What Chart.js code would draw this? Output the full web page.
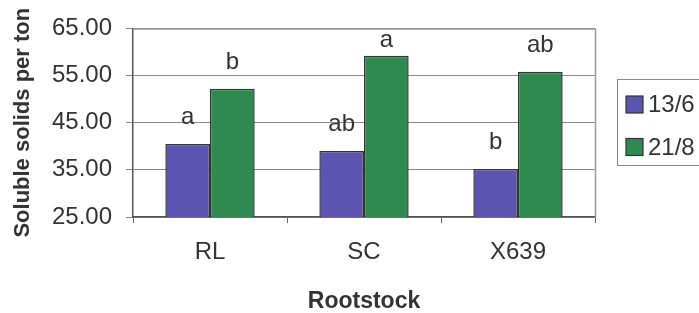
<!DOCTYPE html>
<html>
<head>
<meta charset="utf-8">
<script src="https://cdn.jsdelivr.net/npm/chart.js@4/dist/chart.umd.min.js"></script>
<style>
  html, body { margin: 0; padding: 0; background: #fff; overflow: hidden; }
  canvas { display: block; }
</style>
</head>
<body>
<canvas id="c" width="699" height="313"></canvas>
<script>
const categories = ["RL", "SC", "X639"];
const seriesNames = ["13/6", "21/8"];
const series136 = [40.5, 39.0, 35.2];
const series218 = [52.2, 59.2, 55.8];
const letters136 = ["a", "ab", "b"];
const letters218 = ["b", "a", "ab"];
const yTicks = [25, 35, 45, 55, 65];

const FONT = "'Liberation Sans', Arial, Helvetica, sans-serif";
const colors = ["#5d54b2", "#2f8a52"];
const letterSets = [letters136, letters218];

const letterPlugin = {
  id: 'letters',
  afterDatasetsDraw(chart) {
    const ctx = chart.ctx;
    ctx.save();
    ctx.font = "24px " + FONT;
    ctx.fillStyle = "#333";
    ctx.textAlign = "center";
    ctx.textBaseline = "alphabetic";
    chart.data.datasets.forEach((ds, di) => {
      const meta = chart.getDatasetMeta(di);
      meta.data.forEach((bar, i) => {
        const y = Math.max(bar.y - 20, chart.chartArea.top + 19);
        ctx.fillText(letterSets[di][i], bar.x, y);
      });
    });
    ctx.restore();
  }
};

const framePlugin = {
  id: 'frame',
  beforeDatasetsDraw(chart) {
    const {ctx, chartArea: a} = chart;
    ctx.save();
    ctx.strokeStyle = "#9a9a9a";
    ctx.lineWidth = 1.5;
    ctx.beginPath();
    ctx.moveTo(a.left, a.top + 0.5);
    ctx.lineTo(a.right + 0.5, a.top + 0.5);
    ctx.lineTo(a.right + 0.5, a.bottom);
    ctx.stroke();
    ctx.restore();
  }
};

const legendPlugin = {
  id: 'boxLegend',
  afterDraw(chart) {
    const ctx = chart.ctx;
    ctx.save();
    ctx.strokeStyle = "#8a8a8a";
    ctx.lineWidth = 1;
    ctx.strokeRect(617.5, 79.5, 120, 86);
    const ys = [104.5, 147];
    seriesNames.forEach((name, i) => {
      ctx.fillStyle = colors[i];
      ctx.fillRect(626, ys[i] - 8.5, 17, 17);
      ctx.strokeStyle = "#333";
      ctx.lineWidth = 1.2;
      ctx.strokeRect(626, ys[i] - 8.5, 17, 17);
      ctx.fillStyle = "#333";
      ctx.font = "24px " + FONT;
      ctx.textAlign = "left";
      ctx.textBaseline = "middle";
      ctx.fillText(name, 648, ys[i] + 1);
    });
    ctx.restore();
  }
};

new Chart(document.getElementById('c'), {
  type: 'bar',
  data: {
    labels: categories,
    datasets: [
      { label: seriesNames[0], data: series136, backgroundColor: colors[0], borderColor: "#333", borderWidth: 1.5, categoryPercentage: 0.58, barPercentage: 1.0 },
      { label: seriesNames[1], data: series218, backgroundColor: colors[1], borderColor: "#333", borderWidth: 1.5, categoryPercentage: 0.58, barPercentage: 1.0 }
    ]
  },
  options: {
    responsive: false,
    devicePixelRatio: 1,
    animation: false,
    layout: { padding: { left: 0, right: 104, top: 23, bottom: 0 } },
    plugins: {
      legend: { display: false },
      tooltip: { enabled: false }
    },
    scales: {
      x: {
        offset: true,
        grid: { display: true, drawOnChartArea: false, drawTicks: true, offset: true, tickLength: 6, color: "#666", lineWidth: 1 },
        border: { display: true, color: "#555", width: 1.5 },
        ticks: { color: "#333", font: { family: FONT, size: 24, lineHeight: 1.2 }, padding: 15 },
        title: { display: true, text: "Rootstock", color: "#333", font: { family: FONT, size: 23, weight: 'bold', lineHeight: 1 }, padding: { top: 24, bottom: 0 } },
        afterFit(scale) { scale.height = 96; }
      },
      y: {
        min: 25,
        max: 65,
        afterBuildTicks(scale) { scale.ticks = yTicks.map(v => ({ value: v })); },
        grid: { color: "#8a8a8a", lineWidth: 1, tickLength: 7, drawTicks: true },
        border: { display: true, color: "#555", width: 1.5 },
        ticks: { color: "#333", font: { family: FONT, size: 24 }, padding: 14, callback: v => Number(v).toFixed(2) },
        title: { display: true, text: "Soluble solids per ton", color: "#333", font: { family: FONT, size: 22, weight: 'bold', lineHeight: 1 }, padding: { top: 12, bottom: 0 } },
        afterFit(scale) { scale.width = 133; }
      }
    }
  },
  plugins: [framePlugin, letterPlugin, legendPlugin]
});
</script>
</body>
</html>
